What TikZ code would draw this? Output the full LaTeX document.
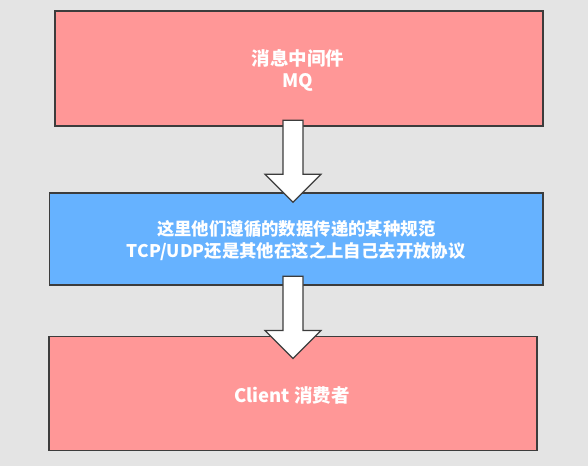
\documentclass[tikz,border=0pt]{standalone}
\usepackage{fontspec}
\setmainfont{Noto Sans CJK SC}
\usetikzlibrary{calc}

\definecolor{bggray}{HTML}{E4E4E4}
\definecolor{boxpink}{HTML}{FF9797}
\definecolor{boxblue}{HTML}{66B2FF}
\definecolor{edge}{HTML}{3C3C3C}

\tikzset{
  layer/.style={draw=edge, line width=1.4pt, inner sep=0pt},
  pinkbox/.style={layer, fill=boxpink},
  bluebox/.style={layer, fill=boxblue},
  caption/.style={text=white, align=center, inner sep=0pt},
  bigcaption/.style={caption, font=\bfseries\fontsize{18.5}{22.5}\selectfont},
  smallcaption/.style={caption, font=\bfseries\fontsize{17.4}{22.5}\selectfont},
  blockarrow/.style={draw=edge, line width=1.2pt, fill=white, line join=miter}
}

% hollow down arrow from #1 (top of shaft) to #2 (tip)
\newcommand{\downblock}[2]{%
  \path[blockarrow] ($(#1)+(-10,0)$) -- ($(#1)+(10,0)$) -- ($(#2)+(10,-28)$)
    -- ($(#2)+(28,-28)$) -- (#2) -- ($(#2)+(-28,-28)$) -- ($(#2)+(-10,-28)$) -- cycle;}

\begin{document}
\begin{tikzpicture}[x=1pt, y=-1pt]
  \fill[bggray] (0,0) rectangle (588,466);
  \useasboundingbox (0,0) rectangle (588,466);

  % the three layers
  \node[pinkbox, minimum width=488pt, minimum height=115pt] (mq) at (299,68.5) {};
  \node[bluebox, minimum width=493.5pt, minimum height=92pt] (proto) at (296.25,239) {};
  \node[pinkbox, minimum width=488pt, minimum height=114.5pt] (client) at (293,393.5) {};

  % their captions
  \node[bigcaption] (mqtext) at ($(mq.center)+(-1,2)$) {消息中间件\\MQ};
  \node[smallcaption] (prototext) at ($(proto.center)+(0,1.5)$)
    {这里他们遵循的数据传递的某种规范\\TCP/UDP还是其他在这之上自己去开放协议};
  \node[bigcaption] (clienttext) at ($(client.center)+(-1,1.5)$) {Client 消费者};

  % arrow ends, tied to the boxes they join
  \coordinate (a1s) at ($(mq.south)+(-6,-6.5)$);
  \coordinate (a1e) at ($(a1s |- proto.north)+(0,10)$);
  \coordinate (a2s) at ($(proto.south -| a1s)+(0,-9.5)$);
  \coordinate (a2e) at ($(a2s |- client.north)+(0,23)$);

  \downblock{a1s}{a1e}
  \downblock{a2s}{a2e}
\end{tikzpicture}
\end{document}
